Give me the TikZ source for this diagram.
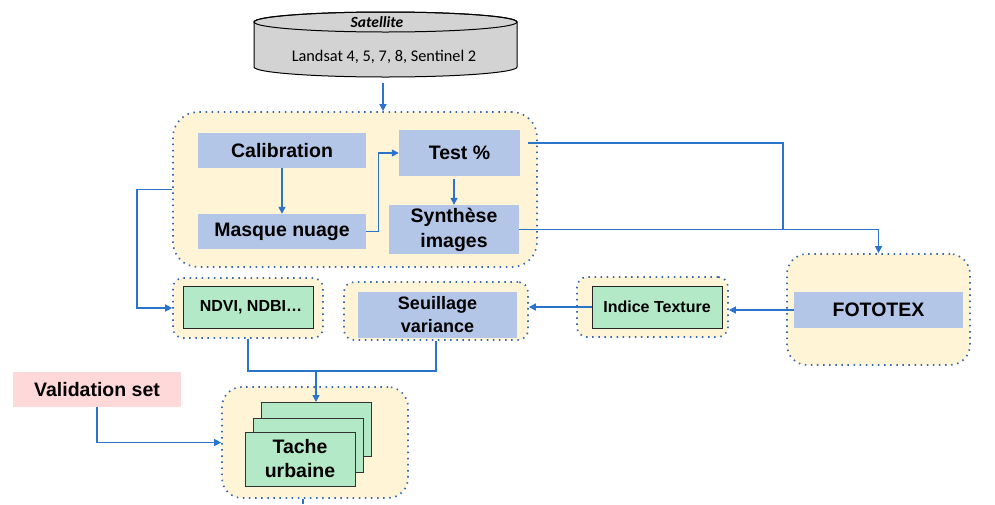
\documentclass[tikz,border=0pt]{standalone}
\usepackage{fontspec}
\setmainfont{Liberation Sans}
\newfontfamily\calib{Carlito}
\usetikzlibrary{arrows.meta}
\definecolor{cream}{HTML}{FFF5D6}
\definecolor{boxblue}{HTML}{B4C6E7}
\definecolor{boxgreen}{HTML}{B3E9C7}
\definecolor{boxpink}{HTML}{FFD9D9}
\definecolor{dotblue}{HTML}{3A68B0}
\definecolor{linkblue}{HTML}{2A74CC}
\definecolor{cylgray}{HTML}{D3D3D3}
\tikzset{
  grp/.style={draw=dotblue, fill=cream, line width=1.7pt, dash pattern=on 1.5pt off 4.6pt, rounded corners=#1, inner sep=0pt},
  grp/.default=10pt,
  bluebox/.style={fill=boxblue, inner sep=0pt, align=center, font=\bfseries\fontsize{19.5}{25}\selectfont},
  greenbox/.style={fill=boxgreen, draw=black!85, line width=1pt, inner sep=0pt, align=center, font=\bfseries\fontsize{16}{20}\selectfont},
  card/.style={fill=boxgreen, draw=black!80, line width=1pt, inner sep=0pt, minimum width=110pt, minimum height=54pt},
  link/.style={draw=linkblue, line width=1.4pt},
  arr/.style={link, -{Triangle[width=7pt,length=7pt]}},
}
\begin{document}
\begin{tikzpicture}[x=1pt,y=-1pt]
\useasboundingbox (0,0) rectangle (995,504);
% satellite cylinder
\node[minimum width=263pt, minimum height=65pt, inner sep=0pt] (sat) at (385.5,44.5) {};
\filldraw[fill=cylgray, draw=black, line width=1pt]
  (254,22) -- (254,67) arc[start angle=180, end angle=0, x radius=131.5, y radius=10]
  -- (517,22) arc[start angle=0, end angle=-180, x radius=131.5, y radius=10] -- cycle;
\draw[black, line width=1pt] (385.5,22) ellipse[x radius=131.5, y radius=10];
\node[font=\calib\bfseries\itshape\fontsize{15.5}{17}\selectfont] (sattitle) at (377,22.5) {Satellite};
\node[font=\calib\fontsize{16.3}{18}\selectfont] (satsub) at (384,57) {Landsat 4, 5, 7, 8, Sentinel 2};
% pre-processing group
\node[grp=25pt, minimum width=364pt, minimum height=155pt] (pre) at (355,189.5) {};
\node[bluebox, minimum width=168pt, minimum height=35pt] (cal) at (282,150.5) {Calibration};
\node[bluebox, minimum width=168pt, minimum height=35pt] (mas) at (282,231.5) {Masque nuage};
\node[bluebox, minimum width=121pt, minimum height=46pt] (tst) at (459.5,153) {Test \%};
\node[bluebox, minimum width=130pt, minimum height=49pt] (syn) at (454,229.5) {Synthèse\\images};
% NDVI group
\node[grp, minimum width=150pt, minimum height=60pt] (ndg) at (248,308) {};
\node[greenbox, minimum width=130pt, minimum height=42pt] (ndvi) at (248,307) {\hspace{6pt}NDVI, NDBI…};
% Seuillage group
\node[grp, minimum width=184pt, minimum height=58pt] (seg) at (436,311) {};
\node[bluebox, font=\bfseries\fontsize{18}{23}\selectfont, minimum width=159pt, minimum height=46pt] (seu) at (437.5,315) {Seuillage\\variance};
% Indice texture group
\node[grp, minimum width=151pt, minimum height=60pt] (ing) at (652.5,307) {};
\node[greenbox, minimum width=130pt, minimum height=42pt] (ind) at (657,307) {Indice Texture};
% FOTOTEX group
\node[grp=20pt, minimum width=183pt, minimum height=111pt] (fog) at (878.5,309.5) {};
\node[bluebox, minimum width=169pt, minimum height=36pt] (fot) at (878.5,310) {FOTOTEX};
% validation set
\node[bluebox, fill=boxpink, minimum width=168pt, minimum height=35pt] (val) at (97,389.5) {Validation set};
% Tache urbaine group
\node[grp=20pt, minimum width=186pt, minimum height=111pt] (tag) at (315,442.5) {};
\node[card] (back) at (316,429.5) {};
\node[card] (mid) at (308,445) {};
\node[card, align=center, font=\bfseries\fontsize{19.5}{24}\selectfont] (front) at (300,459) {Tache\\urbaine};
% coordinates
\coordinate (j) at (783,229);
\coordinate (m) at (316,371);
\coordinate (out) at (303,504);
% connectors
\draw[arr] ([xshift=-2.5pt,yshift=-6pt]sat.south) -- ([xshift=-2.5pt]sat.south |- pre.north);
\draw[arr] (cal.south) -- (mas.north);
\draw[arr] (mas.east) -- ++(12,0) |- (tst.west);
\draw[arr] ([yshift=-3pt]tst.south -| syn.north) -- (syn.north);
\draw[link] ([shift={(8pt,10pt)}]tst.east) -| (j);
\draw[arr] (syn.east) -| (fog.north);
\draw[arr] (pre.west) -- ++(-35,0) |- (ndg.west);
\draw[arr] (fot.west) -- (fot.west -| ing.east);
\draw[arr] (ind.west) -- (ind.west -| seg.east);
\draw[link] (ndg.south) |- (m);
\draw[link] (seg.south) |- (m);
\draw[arr] (m) -- (back.north);
\draw[arr] (val.south) |- (tag.west);
\draw[link] (out |- tag.south) -- (out);
\end{tikzpicture}
\end{document}
